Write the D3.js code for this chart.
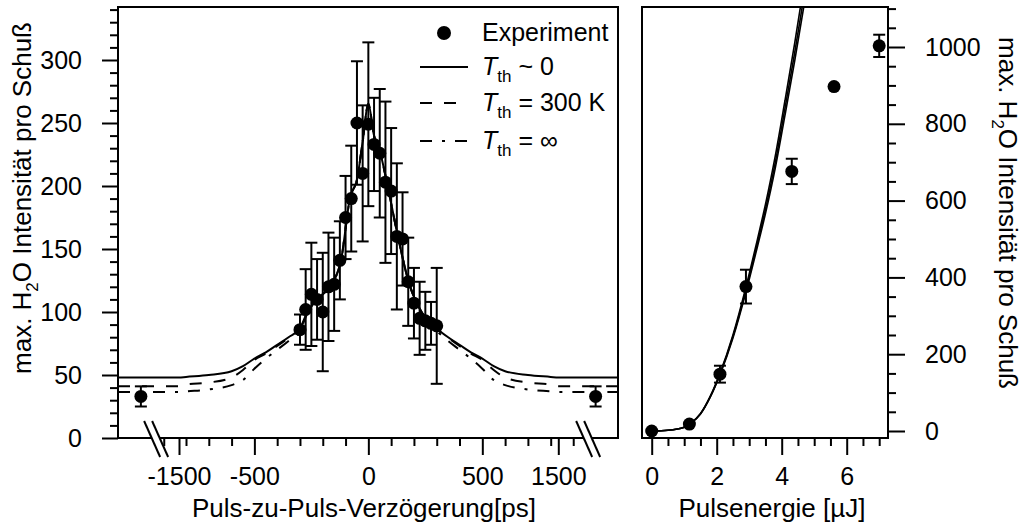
<!DOCTYPE html>
<html>
<head>
<meta charset="utf-8">
<script src="https://cdn.jsdelivr.net/npm/d3@7"></script>
<style>
  body { margin: 0; background: #fff; }
  svg text { font-family: "Liberation Sans", Arial, Helvetica, sans-serif; fill: #000; }
</style>
</head>
<body>
<svg id="chart" width="1022" height="528"></svg>
<script>
// ---- left panel: intensity vs. pulse-to-pulse delay ----
const delayPs = [-300, -275, -250, -225, -200, -175, -150, -125, -100, -75, -50, -25, 0,
                 25, 50, 75, 100, 125, 150, 175, 200, 225, 250, 275, 300];
const intensity = [86, 102, 114, 110, 100, 120, 122, 141, 175, 190, 250, 210, 249,
                   233, 226, 203, 196, 160, 158, 124, 107, 95, 93, 91, 89];
const intensityErr = [12, 32, 41, 32, 47, 43, 37, 31, 33, 42, 49, 54, 65,
                      37, 51, 64, 50, 58, 37, 35, 28, 29, 23, 17, 46];

// points far outside the delay window (beyond the axis breaks)
const farDelayPs = [-2000, 2000];
const farIntensity = [33, 33];
const farErr = [8, 8];

// simulated curves
const curveDelay = [-2300, -1500, -800, -700, -600, -550, -500, -450, -400, -350, -300, -270, -225, -170,
                    -120, -80, -50, -25, 0, 25, 50, 80, 125, 175, 240, 300, 350, 400, 450, 500, 550, 600,
                    700, 800, 1500, 2300];
const curveT0 = [48, 48, 48.5, 50, 53, 57, 63, 68, 74, 80, 87, 99, 110, 120, 141, 191, 205, 235, 265,
                 240, 228, 204, 164, 125, 98, 87, 80, 74, 68, 63, 57, 53, 50, 48.5, 48, 48];
const curveT300 = [41, 41, 42.5, 44, 48, 54, 62, 67, 73, 79.5, 86.5, 99, 110, 120, 141, 191, 205, 235, 265,
                   240, 228, 204, 164, 125, 98, 86.5, 79.5, 73, 67, 62, 54, 48, 44, 42.5, 41, 41];
const curveTinf = [36.5, 36.5, 37, 38.5, 42, 46, 55, 63, 70, 77, 85, 98, 110, 120, 141, 191, 205, 235, 265,
                   240, 228, 204, 164, 125, 98, 85, 77, 70, 63, 55, 46, 42, 38.5, 37, 36.5, 36.5];

const leftYTicks = [0, 50, 100, 150, 200, 250, 300];
const leftYMinor = [10, 20, 30, 40, 60, 70, 80, 90, 110, 120, 130, 140, 160, 170, 180, 190,
                    210, 220, 230, 240, 260, 270, 280, 290, 310, 320, 330, 340];
const leftXTicks = [-1500, -500, 0, 500, 1500];
const leftXMinor = [-1700, -800, -700, -600, -400, -300, -200, -100, 100, 200, 300, 400,
                    600, 700, 800, 1700];
const axisBreaks = [-1800, 1900];

// ---- right panel: intensity vs. pulse energy ----
const energy = [0, 1.16, 2.1, 2.9, 4.31, 5.61, 7.0];
const peak = [0, 18, 148, 376, 676, 897, 1003];
const peakErr = [0, 0, 22, 44, 33, 0, 29];

const modelEnergy = [0, 0.5, 1.0, 1.2, 1.5, 1.8, 2.1, 2.5, 2.9, 3.2, 3.5, 3.8, 4.1, 4.4, 4.7];
const modelA = [0, 2, 10, 20, 45, 90, 150, 250, 375, 480, 590, 715, 860, 1010, 1170];
const modelB = [0, 2, 10, 20, 45, 89, 148, 246, 368, 470, 577, 698, 840, 985, 1140];
const modelC = [0, 2, 10, 20, 44, 88, 146, 242, 362, 462, 566, 684, 822, 964, 1115];

const rightXTicks = [0, 2, 4, 6];
const rightXMinor = [0.5, 1, 1.5, 2.5, 3, 3.5, 4.5, 5, 5.5, 6.5, 7];
const rightYTicks = [0, 200, 400, 600, 800, 1000];
const rightYMinor = [50, 100, 150, 250, 300, 350, 450, 500, 550, 650, 700, 750, 850, 900, 950, 1050, 1100];

const legendLabels = ["Experiment", " ~ 0", " = 300 K", " = \u221E"];

const FONT = 25;
const plain = d => String(d);   // hyphen-minus, no thousands separator
const svg = d3.select("#chart");

const L = {left: 118, right: 618, top: 7, bottom: 438};
const R = {left: 642, right: 888, top: 7, bottom: 438};

const xL = d3.scaleLinear()
    .domain([-2300, -1500, -800, 800, 1500, 2300])
    .range([L.left, 179, 186, 550.7, 558.3, L.right]);
const yL = d3.scaleLinear().domain([0, 300]).range([L.bottom, 60]);

const xR = d3.scaleLinear().domain([0, 6]).range([651.7, 846.7]);
const yR = d3.scaleLinear().domain([0, 1000]).range([431, 47]);

const defs = svg.append("defs");
defs.append("clipPath").attr("id", "clipL").append("rect")
    .attr("x", L.left).attr("y", L.top).attr("width", L.right - L.left).attr("height", L.bottom - L.top);
defs.append("clipPath").attr("id", "clipR").append("rect")
    .attr("x", R.left).attr("y", R.top).attr("width", R.right - R.left).attr("height", R.bottom - R.top);

function styleAxis(g, fontSize) {
    g.select(".domain").remove();
    g.attr("font-family", null).attr("font-size", null);
    g.selectAll("line").attr("stroke", "#000").attr("stroke-width", 2);
    g.selectAll("text").style("font-size", fontSize + "px");
}

function addAxis(axis, transform) {
    const g = svg.append("g").attr("transform", transform).call(axis);
    styleAxis(g, FONT);
    return g;
}

// ---- left axes ----
addAxis(d3.axisLeft(yL).tickValues(leftYMinor).tickSize(8).tickFormat(""), `translate(${L.left},0)`);
addAxis(d3.axisLeft(yL).tickValues(leftYTicks).tickSize(16).tickPadding(20).tickFormat(plain),
        `translate(${L.left},0)`);
addAxis(d3.axisBottom(xL).tickValues(leftXMinor).tickSize(8).tickFormat(""), `translate(0,${L.bottom})`);
addAxis(d3.axisBottom(xL).tickValues(leftXTicks).tickSize(17).tickPadding(12).tickFormat(plain),
        `translate(0,${L.bottom})`);

// ---- right axes ----
addAxis(d3.axisRight(yR).tickValues(rightYMinor).tickSize(8).tickFormat(""), `translate(${R.right},0)`);
addAxis(d3.axisRight(yR).tickValues(rightYTicks).tickSize(17).tickPadding(20).tickFormat(plain),
        `translate(${R.right},0)`);
addAxis(d3.axisBottom(xR).tickValues(rightXMinor).tickSize(8).tickFormat(""), `translate(0,${R.bottom})`);
addAxis(d3.axisBottom(xR).tickValues(rightXTicks).tickSize(17).tickPadding(12).tickFormat(plain),
        `translate(0,${R.bottom})`);

// frames
[L, R].forEach(p => {
    svg.append("rect")
        .attr("x", p.left).attr("y", p.top)
        .attr("width", p.right - p.left).attr("height", p.bottom - p.top)
        .attr("fill", "none").attr("stroke", "#000").attr("stroke-width", 2);
});

// axis breaks on the delay axis
axisBreaks.forEach(b => {
    const cx = xL(b);
    const g = svg.append("g");
    g.append("polygon")
        .attr("points", [[cx - 12, L.bottom - 17], [cx - 4, L.bottom - 17], [cx + 12, L.bottom + 19], [cx + 4, L.bottom + 19]].join(" "))
        .attr("fill", "#fff");
    [-4, 4].forEach(off => {
        g.append("line")
            .attr("x1", cx + off - 8).attr("y1", L.bottom - 17)
            .attr("x2", cx + off + 8).attr("y2", L.bottom + 19)
            .attr("stroke", "#000").attr("stroke-width", 2);
    });
});

// ---- left plot content ----
const plotL = svg.append("g").attr("clip-path", "url(#clipL)");

const lineL = d3.line()
    .x(d => xL(d[0]))
    .y(d => yL(d[1]))
    .curve(d3.curveMonotoneX);

const curves = [
    {values: curveT0, dash: null},
    {values: curveT300, dash: "12,12"},
    {values: curveTinf, dash: "12,10,3,10"}
];
curves.forEach(c => {
    plotL.append("path")
        .attr("d", lineL(curveDelay.map((d, i) => [d, c.values[i]])))
        .attr("fill", "none")
        .attr("stroke", "#000")
        .attr("stroke-width", 2)
        .attr("stroke-dasharray", c.dash);
});

function drawPoints(g, xs, ys, errs, x, y) {
    const pts = xs.map((d, i) => ({x: d, y: ys[i], e: errs[i]}));
    const eb = g.append("g").attr("stroke", "#000").attr("stroke-width", 2);
    pts.filter(p => p.e > 0).forEach(p => {
        const px = x(p.x);
        eb.append("line").attr("x1", px).attr("x2", px).attr("y1", y(p.y - p.e)).attr("y2", y(p.y + p.e));
        eb.append("line").attr("x1", px - 6).attr("x2", px + 6).attr("y1", y(p.y - p.e)).attr("y2", y(p.y - p.e));
        eb.append("line").attr("x1", px - 6).attr("x2", px + 6).attr("y1", y(p.y + p.e)).attr("y2", y(p.y + p.e));
    });
    g.append("g").selectAll("circle")
        .data(pts)
        .enter().append("circle")
        .attr("cx", p => x(p.x))
        .attr("cy", p => y(p.y))
        .attr("r", 6.5)
        .attr("fill", "#000");
}

drawPoints(plotL, delayPs, intensity, intensityErr, xL, yL);
drawPoints(plotL, farDelayPs, farIntensity, farErr, xL, yL);

// ---- right plot content ----
const plotR = svg.append("g").attr("clip-path", "url(#clipR)");
const lineR = d3.line()
    .x(d => xR(d[0]))
    .y(d => yR(d[1]))
    .curve(d3.curveMonotoneX);
[modelA, modelB, modelC].forEach(m => {
    plotR.append("path")
        .attr("d", lineR(modelEnergy.map((d, i) => [d, m[i]])))
        .attr("fill", "none")
        .attr("stroke", "#000")
        .attr("stroke-width", 1.6);
});
drawPoints(plotR, energy, peak, peakErr, xR, yR);

// ---- legend ----
const legendRows = [33, 67, 103, 141];
const legend = svg.append("g");
legend.append("circle").attr("cx", 444).attr("cy", legendRows[0]).attr("r", 7).attr("fill", "#000");
legend.append("text").attr("x", 482).attr("y", legendRows[0] + 8)
    .style("font-size", FONT + "px").text(legendLabels[0]);
curves.forEach((c, i) => {
    const yy = legendRows[i + 1];
    legend.append("line")
        .attr("x1", 420).attr("x2", 468).attr("y1", yy).attr("y2", yy)
        .attr("stroke", "#000").attr("stroke-width", 2)
        .attr("stroke-dasharray", c.dash);
    const t = legend.append("text").attr("x", 482).attr("y", yy + 8).style("font-size", FONT + "px");
    t.append("tspan").style("font-style", "italic").text("T");
    t.append("tspan").attr("dy", 7).style("font-size", "17px").text("th");
    t.append("tspan").attr("dy", -7).text(legendLabels[i + 1]);
});

// ---- axis titles ----
function yTitle(x, y, angle) {
    const t = svg.append("text")
        .attr("transform", `translate(${x},${y}) rotate(${angle})`)
        .attr("text-anchor", "middle")
        .style("font-size", "26px");
    t.append("tspan").text("max. H");
    t.append("tspan").attr("dy", 7).style("font-size", "17px").text("2");
    t.append("tspan").attr("dy", -7).text("O Intensit\u00e4t pro Schu\u00df");
}
yTitle(31, 198, -90);
yTitle(999, 213, 90);

svg.append("text").attr("x", 364).attr("y", 517).attr("text-anchor", "middle")
    .style("font-size", "26px").text("Puls-zu-Puls-Verz\u00f6gerung[ps]");
svg.append("text").attr("x", 772).attr("y", 517).attr("text-anchor", "middle")
    .style("font-size", "26px").text("Pulsenergie [\u00b5J]");
</script>
</body>
</html>
